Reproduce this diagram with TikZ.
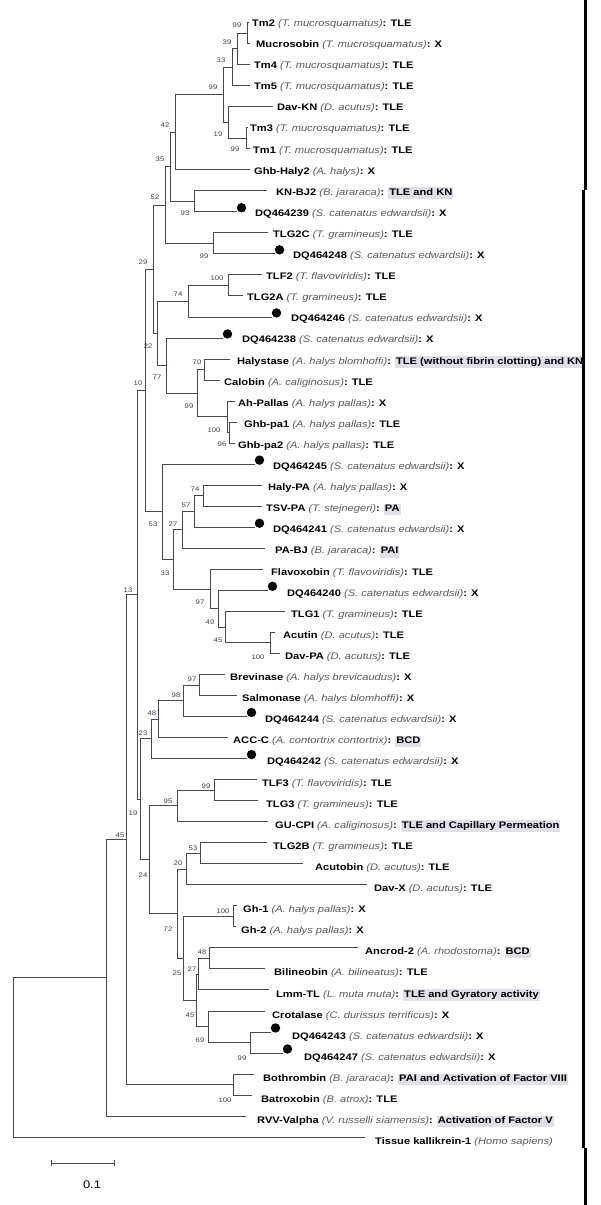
\documentclass[tikz,border=0pt]{standalone}
\usepackage{fontspec}
\setmainfont[FakeStretch=1.17]{Liberation Sans}
\usetikzlibrary{calc}
\definecolor{hlc}{RGB}{224,224,233}
\definecolor{spcol}{RGB}{90,90,96}
\definecolor{brc}{RGB}{72,72,84}
\newcommand\spc[1]{{\mdseries\itshape\color{spcol}#1}}
\newcommand\hlb[1]{{\setlength\fboxsep{1pt}\colorbox{hlc}{\rule[-2.6pt]{0pt}{9.4pt}#1}}}
\newcommand\lf[4]{%
  \pgfmathsetmacro\lfy{22.5+(#1-1)*21.03}%
  \pgfmathsetmacro\lft{26.4+(#1-1)*21.1}%
  \coordinate (L#1) at (#2,\lfy);
  \node[lbl] (T#1) at (#3,\lft) {#4};}
\newcommand\dq[1]{\fill[black] ($(L#1)+(4.5,-4)$) circle (4.7pt);}
\newcommand\nd[7]{%
  \path ($(#3)!.5!(#4)$) coordinate (m#1);
  \coordinate (#1) at (m#1 -| #2,0);
  \draw[br] (#3) -- (#3 -| #1) -- (#4 -| #1) -- (#4);
  \node[bsl] (b#1) at (#6,#7) {#5};}
\newcommand\ndn[4]{%
  \path ($(#3)!.5!(#4)$) coordinate (m#1);
  \coordinate (#1) at (m#1 -| #2,0);
  \draw[br] (#3) -- (#3 -| #1) -- (#4 -| #1) -- (#4);}
\begin{document}
\begin{tikzpicture}[x=1pt,y=-1pt,
  lbl/.style={anchor=base west,inner sep=0pt,font=\fontsize{9.5}{11}\selectfont\bfseries},
  bsl/.style={inner sep=0pt,font=\fontsize{6.6}{7}\selectfont,text=black!75},
  br/.style={draw=brc,line width=0.8pt}]
\useasboundingbox (0,0) rectangle (600,1205);
\fill[white] (0,0) rectangle (600,1205);
% leaves
\lf{1}{249}{252}{Tm2 \spc{(T. mucrosquamatus)}: TLE}
\lf{2}{250}{256}{Mucrosobin \spc{(T. mucrosquamatus)}: X}
\lf{3}{250}{254}{Tm4 \spc{(T. mucrosquamatus)}: TLE}
\lf{4}{250}{254}{Tm5 \spc{(T. mucrosquamatus)}: TLE}
\lf{5}{273}{277}{Dav-KN \spc{(D. acutus)}: TLE}
\lf{6}{248}{250}{Tm3 \spc{(T. mucrosquamatus)}: TLE}
\lf{7}{250}{253}{Tm1 \spc{(T. mucrosquamatus)}: TLE}
\lf{8}{250}{254}{Ghb-Haly2 \spc{(A. halys)}: X}
\lf{9}{267}{276}{KN-BJ2 \spc{(B. jararaca)}: \hlb{TLE and KN}}
\lf{10}{237}{255}{DQ464239 \spc{(S. catenatus edwardsii)}: X}
\lf{11}{268}{273}{TLG2C \spc{(T. gramineus)}: TLE}
\lf{12}{275}{293}{DQ464248 \spc{(S. catenatus edwardsii)}: X}
\lf{13}{262}{266}{TLF2 \spc{(T. flavoviridis)}: TLE}
\lf{14}{243}{247}{TLG2A \spc{(T. gramineus)}: TLE}
\lf{15}{272}{291}{DQ464246 \spc{(S. catenatus edwardsii)}: X}
\lf{16}{223}{242}{DQ464238 \spc{(S. catenatus edwardsii)}: X}
\lf{17}{230}{237}{Halystase \spc{(A. halys blomhoffi)}: \hlb{TLE (without fibrin clotting) and KN}}
\lf{18}{220}{224}{Calobin \spc{(A. caliginosus)}: TLE}
\lf{19}{235}{238}{Ah-Pallas \spc{(A. halys pallas)}: X}
\lf{20}{237}{244}{Ghb-pa1 \spc{(A. halys pallas)}: TLE}
\lf{21}{235}{238}{Ghb-pa2 \spc{(A. halys pallas)}: TLE}
\lf{22}{255}{273}{DQ464245 \spc{(S. catenatus edwardsii)}: X}
\lf{23}{262}{268}{Haly-PA \spc{(A. halys pallas)}: X}
\lf{24}{262}{266}{TSV-PA \spc{(T. stejnegeri)}: \hlb{PA}}
\lf{25}{255}{273}{DQ464241 \spc{(S. catenatus edwardsii)}: X}
\lf{26}{265}{275}{PA-BJ \spc{(B. jararaca)}: \hlb{PAI}}
\lf{27}{263}{271}{Flavoxobin \spc{(T. flavoviridis)}: TLE}
\lf{28}{268}{287}{DQ464240 \spc{(S. catenatus edwardsii)}: X}
\lf{29}{285}{291}{TLG1 \spc{(T. gramineus)}: TLE}
\lf{30}{275}{283}{Acutin \spc{(D. acutus)}: TLE}
\lf{31}{280}{285}{Dav-PA \spc{(D. acutus)}: TLE}
\lf{32}{225}{230}{Brevinase \spc{(A. halys brevicaudus)}: X}
\lf{33}{237}{242}{Salmonase \spc{(A. halys blomhoffi)}: X}
\lf{34}{247}{265}{DQ464244 \spc{(S. catenatus edwardsii)}: X}
\lf{35}{228}{233}{ACC-C \spc{(A. contortrix contortrix)}: \hlb{BCD}}
\lf{36}{247}{267}{DQ464242 \spc{(S. catenatus edwardsii)}: X}
\lf{37}{257}{262}{TLF3 \spc{(T. flavoviridis)}: TLE}
\lf{38}{258}{266}{TLG3 \spc{(T. gramineus)}: TLE}
\lf{39}{268}{275}{GU-CPI \spc{(A. caliginosus)}: \hlb{TLE and Capillary Permeation}}
\lf{40}{267}{273}{TLG2B \spc{(T. gramineus)}: TLE}
\lf{41}{303}{315}{Acutobin \spc{(D. acutus)}: TLE}
\lf{42}{367}{374}{Dav-X \spc{(D. acutus)}: TLE}
\lf{43}{237}{243}{Gh-1 \spc{(A. halys pallas)}: X}
\lf{44}{236}{241}{Gh-2 \spc{(A. halys pallas)}: X}
\lf{45}{358}{365}{Ancrod-2 \spc{(A. rhodostoma)}: \hlb{BCD}}
\lf{46}{265}{274}{Bilineobin \spc{(A. bilineatus)}: TLE}
\lf{47}{269}{276}{Lmm-TL \spc{(L. muta muta)}: \hlb{TLE and Gyratory activity}}
\lf{48}{265}{272}{Crotalase \spc{(C. durissus terrificus)}: X}
\lf{49}{271}{292}{DQ464243 \spc{(S. catenatus edwardsii)}: X}
\lf{50}{283}{304}{DQ464247 \spc{(S. catenatus edwardsii)}: X}
\lf{51}{254}{263}{Bothrombin \spc{(B. jararaca)}: \hlb{PAI and Activation of Factor VIII}}
\lf{52}{252}{261}{Batroxobin \spc{(B. atrox)}: TLE}
\lf{53}{246}{257}{RVV-Valpha \spc{(V. russelli siamensis)}: \hlb{Activation of Factor V}}
\lf{54}{365}{375}{Tissue kallikrein-1 \spc{(Homo sapiens)}}
% dots
\dq{10}\dq{12}\dq{15}\dq{16}\dq{22}\dq{25}\dq{28}\dq{34}\dq{36}\dq{49}\dq{50}
% internal nodes
\nd{nA}{247}{L1}{L2}{99}{237}{25}
\nd{nB}{237}{nA}{L3}{39}{227}{42}
\nd{nC}{232}{nB}{L4}{33}{221}{60}
\nd{nD}{246}{L6}{L7}{99}{235}{149}
\nd{nE}{228}{L5}{nD}{19}{218}{134}
\nd{nF}{223}{nC}{nE}{99}{213}{87}
\nd{nG}{175}{nF}{L8}{42}{165}{125}
\nd{nH}{194}{L9}{L10}{93}{185}{213}
\nd{nI}{170}{nG}{nH}{35}{160}{159}
\nd{nJ}{213}{L11}{L12}{99}{204}{256}
\nd{nK}{165}{nI}{nJ}{52}{155}{197}
\nd{nL}{228}{L13}{L14}{100}{217}{278}
\nd{nM}{188}{nL}{L15}{74}{178}{294}
\nd{nN}{204}{L17}{L18}{70}{197}{362}
\nd{nO}{229}{L20}{L21}{96}{222}{444}
\nd{nP}{227}{L19}{nO}{100}{214}{430}
\nd{nQ}{197}{nN}{nP}{99}{189}{406}
\nd{nR}{166}{L16}{nQ}{77}{157}{377}
\nd{nS}{157}{nM}{nR}{22}{148}{346}
\nd{nT}{153}{nK}{nS}{29}{143}{262}
\nd{nU}{203}{L23}{L24}{74}{195}{489}
\nd{nV}{194}{nU}{L25}{57}{186}{505}
\nd{nW}{182}{nV}{L26}{27}{173}{524}
\nd{nX}{270}{L30}{L31}{100}{258}{657}
\nd{nY}{225}{L29}{nX}{45}{218}{640}
\nd{nZ}{218}{L28}{nY}{49}{210}{622}
\nd{pA}{210}{L27}{nZ}{97}{200}{602}
\nd{pB}{173}{nW}{pA}{33}{165}{573}
\nd{pC}{162}{L22}{pB}{53}{153}{524}
\nd{pD}{145}{nT}{pC}{10}{138}{383}
\nd{pE}{199}{L32}{L33}{97}{192}{679}
\nd{pF}{183}{pE}{L34}{98}{176}{695}
\nd{pG}{158}{pF}{L35}{48}{152}{713}
\nd{pH}{151}{pG}{L36}{23}{143}{733}
\nd{pI}{214}{L37}{L38}{99}{206}{786}
\nd{pJ}{177}{pI}{L39}{95}{168}{801}
\nd{pK}{200}{L40}{L41}{53}{193}{848}
\nd{pL}{186}{pK}{L42}{20}{178}{863}
\nd{pM}{233}{L43}{L44}{100}{223}{911}
\nd{pN}{209}{L45}{L46}{48}{202}{952}
\nd{pO}{198}{pN}{L47}{27}{192}{969}
\nd{pP}{250}{L49}{L50}{99}{242}{1058}
\nd{pQ}{208}{L48}{pP}{69}{200}{1040}
\nd{pR}{196}{pO}{pQ}{45}{190}{1015}
\nd{pS}{183}{pM}{pR}{25}{177}{973}
\nd{pT}{177}{pL}{pS}{72}{168}{929}
\nd{pU}{149}{pJ}{pT}{24}{143}{875}
\nd{pV}{140}{pH}{pU}{19}{133}{813}
\nd{pW}{137}{pD}{pV}{13}{128}{590}
\nd{pX}{233}{L51}{L52}{100}{225}{1100}
\nd{pY}{126}{pW}{pX}{45}{120}{835}
\ndn{pZ}{106}{pY}{L53}
\ndn{root}{13}{pZ}{L54}
% scale bar
\coordinate (s1) at (51,1163);
\coordinate (s2) at (114,1163);
\draw[br] (s1) -- (s2);
\draw[br] ($(s1)+(0,-3)$) -- ($(s1)+(0,3)$);
\draw[br] ($(s2)+(0,-3)$) -- ($(s2)+(0,3)$);
\node[inner sep=0pt,font=\fontsize{11}{12}\selectfont] (sbl) at (92,1185) {0.1};
% right border line
\draw[line width=3pt] (585.5,0) -- (585.5,190);
\draw[line width=3pt] (583.5,190) -- (583.5,1148);
\draw[line width=3pt] (585.5,1148) -- (585.5,1205);
\end{tikzpicture}
\end{document}
